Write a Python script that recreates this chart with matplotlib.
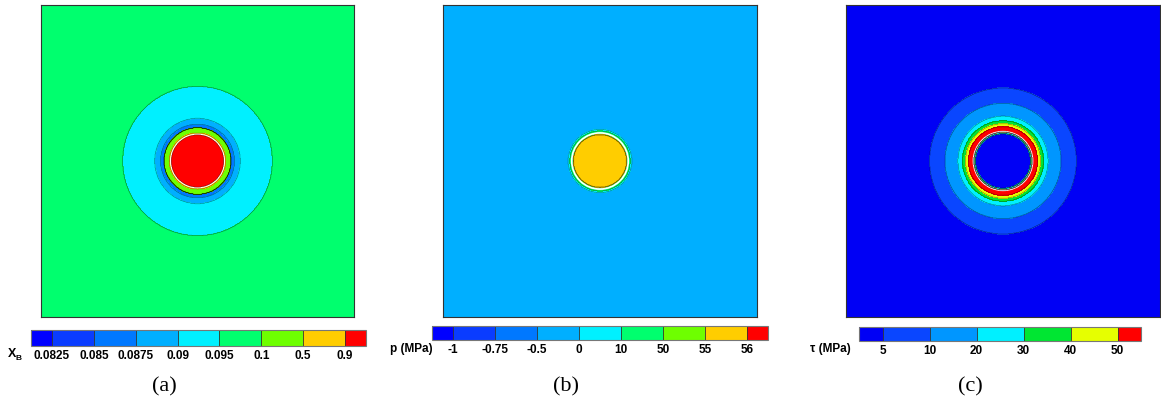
"""Contour maps of mole fraction, pressure and shear stress around an inclusion."""
import matplotlib.pyplot as plt
import numpy as np
from matplotlib.patches import Circle

# ring radii (fraction of half-width, outermost first) and band values
# (background value first, then the value inside each ring)
XB_RADII = [0.478, 0.274, 0.236, 0.212, 0.180, 0.168]
XB_VALUES = [0.097, 0.092, 0.089, 0.086, 0.3, 0.7, 0.95]
XB_LEVELS = [0.0825, 0.085, 0.0875, 0.09, 0.095, 0.1, 0.5, 0.9]
XB_TICKS = ["0.0825", "0.085", "0.0875", "0.09", "0.095", "0.1", "0.5", "0.9"]
XB_WHITE_RING = 0.172

P_RADII = [0.201, 0.191, 0.170]
P_VALUES = [-0.25, 5.0, 30.0, 55.5]
P_LEVELS = [-1, -0.75, -0.5, 0, 10, 50, 55, 56]
P_TICKS = ["-1", "-0.75", "-0.5", "0", "10", "50", "55", "56"]
P_WHITE_RING = 0.180

TAU_RADII = [0.468, 0.369, 0.287, 0.258, 0.239, 0.220, 0.185, 0.175]
TAU_VALUES = [2.0, 7.5, 15.0, 25.0, 35.0, 45.0, 55.0, 25.0, 2.0]
TAU_LEVELS = [5, 10, 20, 30, 40, 50]
TAU_TICKS = ["5", "10", "20", "30", "40", "50"]
TAU_WHITE_RING = 0.188

RAINBOW9 = ["#0000FF", "#0A3CFF", "#0078FF", "#00AFFF", "#00F0FF",
            "#00FF6E", "#6EFF00", "#FFCD00", "#FF0000"]
RAINBOW7 = ["#0000F5", "#0A46FF", "#0096FF", "#00F0FF", "#00E632",
            "#E6FF00", "#FF0000"]

W, H = 1161, 405
fig = plt.figure(figsize=(W / 100, H / 100), dpi=100)

n = 601
xs = np.linspace(-1, 1, n)
X, Y = np.meshgrid(xs, xs)
R = np.hypot(X, Y)


def band_field(radii, values):
    field = np.full_like(R, values[0])
    for r, v in zip(radii, values[1:]):
        field[R < r] = v
    return field


def px_axes(x0, y0, x1, y1):
    return fig.add_axes([x0 / W, 1 - y1 / H, (x1 - x0) / W, (y1 - y0) / H])


def panel(box, cbox, radii, values, levels, ticks, colors, white_ring=None,
          ring_lw=1.2):
    ax = px_axes(*box)
    field = band_field(radii, values)
    # first/last colours go to the under/over extensions
    cs = ax.contourf(X, Y, field, levels=levels, colors=colors, extend="both")
    ax.contour(X, Y, field, levels=levels, colors="k", linewidths=0.4, alpha=0.5)
    if white_ring is not None:
        ax.add_patch(Circle((0, 0), white_ring, fill=False, ec="white", lw=ring_lw))
    ax.set_xlim(-1, 1)
    ax.set_ylim(-1, 1)
    ax.set_xticks([])
    ax.set_yticks([])
    for s in ax.spines.values():
        s.set_edgecolor("#333333")
        s.set_linewidth(0.8)

    cax = px_axes(*cbox)
    cb = fig.colorbar(cs, cax=cax, orientation="horizontal", extendrect=True,
                      extendfrac=0.5 / (len(levels) - 1), drawedges=True)
    cb.set_ticks(levels)
    cb.set_ticklabels(ticks)
    cb.ax.tick_params(length=0, pad=3, labelsize=8.5)
    for lbl in cb.ax.get_xticklabels():
        lbl.set_fontweight("bold")
        lbl.set_family("Liberation Sans")
    cb.outline.set_edgecolor("#777777")
    cb.outline.set_linewidth(0.8)
    cb.dividers.set_color("#333333")
    cb.dividers.set_linewidth(0.6)
    return ax


plt.rcParams["font.family"] = "Liberation Sans"

panel((41, 5, 354, 317), (31, 330, 366, 346), XB_RADII, XB_VALUES,
      XB_LEVELS, XB_TICKS, RAINBOW9, white_ring=XB_WHITE_RING, ring_lw=0.8)
panel((443, 5, 757, 317), (432, 326, 768, 340), P_RADII, P_VALUES,
      P_LEVELS, P_TICKS, RAINBOW9, white_ring=P_WHITE_RING)
panel((846, 5, 1160, 317), (859, 327, 1141, 341), TAU_RADII, TAU_VALUES,
      TAU_LEVELS, TAU_TICKS, RAINBOW7, white_ring=TAU_WHITE_RING)

# colour bar titles
fig.text(8 / W, 1 - 354 / H, "X", fontsize=9, fontweight="bold", va="center")
fig.text(15.5 / W, 1 - 358 / H, "B", fontsize=6, fontweight="bold", va="center")
fig.text(433 / W, 1 - 349 / H, "p (MPa)", fontsize=8.5, fontweight="bold",
         ha="right", va="center")
fig.text(810 / W, 1 - 349 / H, "τ (MPa)", fontsize=8.5, fontweight="bold",
         ha="left", va="center")

for x, lab in [(164, "(a)"), (566, "(b)"), (970, "(c)")]:
    fig.text(x / W, 1 - 387 / H, lab, fontsize=16, family="Liberation Serif",
             ha="center", va="center")

fig.savefig("out.png", dpi=100)
